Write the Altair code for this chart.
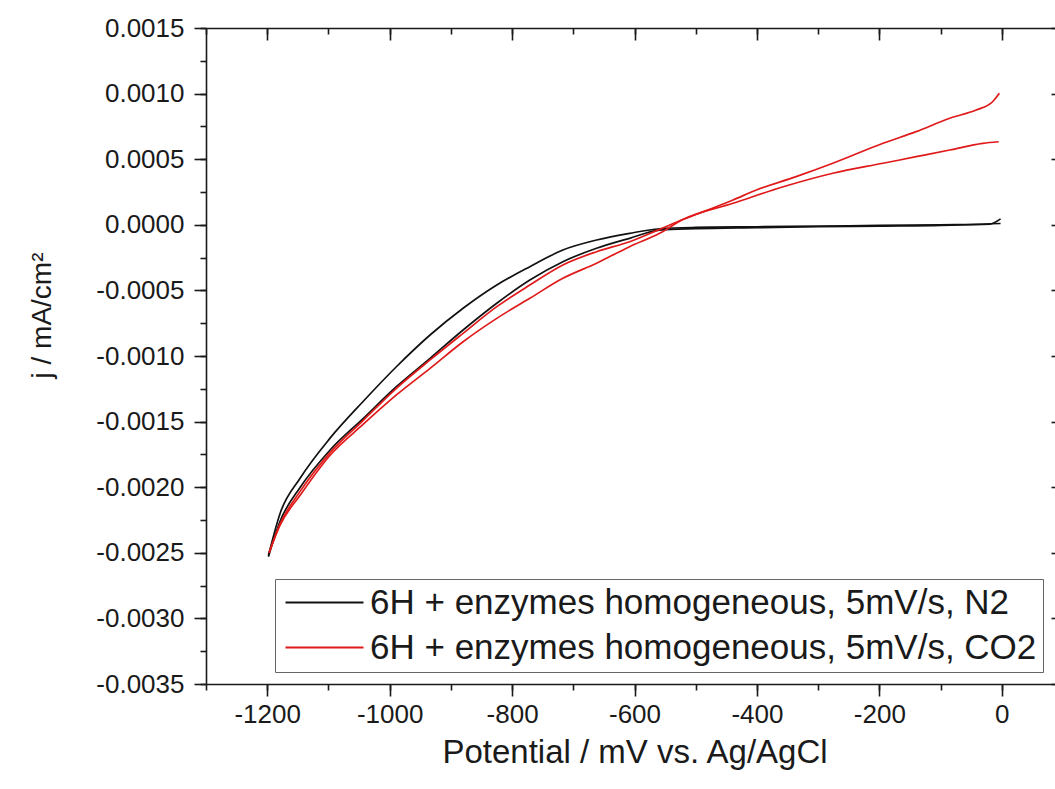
import altair as alt
import pandas as pd

N2_LABEL = "6H + enzymes homogeneous, 5mV/s, N2"
CO2_LABEL = "6H + enzymes homogeneous, 5mV/s, CO2"

# N2 scan, upper branch
n2_a_mv = [-1198, -1179, -1146, -1098, -1043, -989, -934, -880, -825, -771, -717,
           -662, -608, -559, -500, -400, -300, -200, -100, -20, -2]
n2_a_j = [-0.00252, -0.00220, -0.00193, -0.00163, -0.001345, -0.001082, -0.00084,
          -0.000636, -0.000459, -0.000319, -0.000192, -0.000116, -0.000065, -0.00003,
          -0.00002, -0.000015, -0.00001, -0.000005, 0.0, 0.000005, 0.000045]
# N2 scan, lower branch
n2_b_mv = [-1198, -1179, -1146, -1098, -1043, -989, -934, -880, -825, -771, -717,
           -662, -608, -559, -500, -400, -300, -200, -100, -2]
n2_b_j = [-0.00253, -0.00226, -0.00200, -0.00172, -0.001475, -0.001234, -0.001018,
          -0.000802, -0.000598, -0.000421, -0.000281, -0.000179, -0.000103, -0.00004,
          -0.00003, -0.000022, -0.000015, -0.00001, -0.000005, 0.00001]
# CO2 scan, branch ending at 0.0010
co2_a_mv = [-1197, -1179, -1146, -1098, -1043, -989, -934, -880, -825, -771, -717,
            -662, -608, -559, -521, -494, -439, -401, -336, -276, -194, -140, -85,
            -42, -15, -4]
co2_a_j = [-0.00250, -0.00228, -0.00203, -0.00174, -0.00149, -0.001246, -0.00103,
           -0.000827, -0.000624, -0.000459, -0.000306, -0.000205, -0.000129, -0.000035,
           0.00004, 0.000088, 0.000189, 0.000265, 0.000367, 0.000469, 0.000621,
           0.00071, 0.000812, 0.000875, 0.000938, 0.001002]
# CO2 scan, branch ending at 0.00063
co2_b_mv = [-1197, -1179, -1146, -1098, -1043, -989, -934, -880, -825, -771, -717,
            -662, -608, -559, -521, -439, -357, -276, -194, -140, -85, -31, -5]
co2_b_j = [-0.00250, -0.00229, -0.00206, -0.00176, -0.00152, -0.001297, -0.001094,
           -0.000891, -0.000713, -0.00056, -0.000408, -0.000293, -0.000167, -0.000065,
           0.00004, 0.000164, 0.00029, 0.000393, 0.000469, 0.000519, 0.00057,
           0.000621, 0.000633]

x_major = [-1200, -1000, -800, -600, -400, -200, 0]
x_minor = [-1300, -1200, -1100, -1000, -900, -800, -700, -600, -500, -400, -300,
           -200, -100, 0, 100]
y_major = [-0.0035, -0.0030, -0.0025, -0.0020, -0.0015, -0.0010, -0.0005, 0.0,
           0.0005, 0.0010, 0.0015]
y_minor = [-0.0035, -0.00325, -0.0030, -0.00275, -0.0025, -0.00225, -0.0020,
           -0.00175, -0.0015, -0.00125, -0.0010, -0.00075, -0.0005, -0.00025, 0.0,
           0.00025, 0.0005, 0.00075, 0.0010, 0.00125, 0.0015]

rows = []
for series, branch, xs, ys in [
    (N2_LABEL, "n2a", n2_a_mv, n2_a_j),
    (N2_LABEL, "n2b", n2_b_mv, n2_b_j),
    (CO2_LABEL, "co2a", co2_a_mv, co2_a_j),
    (CO2_LABEL, "co2b", co2_b_mv, co2_b_j),
]:
    for xv, yv in zip(xs, ys):
        rows.append({"series": series, "branch": branch, "mv": xv, "j": yv})
df = pd.DataFrame(rows)

FONT = "Liberation Sans"
TXT = "#1a1a1a"
MINUS = "replace(datum.label, '\u2212', '-')"

xscale = alt.Scale(domain=[-1300, 100], range=[0, 857], nice=False, zero=False)
yscale = alt.Scale(domain=[-0.0035, 0.0015], nice=False, zero=False)

common = dict(grid=False, tickColor=TXT, domainColor=TXT, tickWidth=1.6,
              domainWidth=1.6)

bottom_major = alt.Axis(orient="bottom", values=x_major, format="d", labelExpr=MINUS,
                        tickSize=12, labelPadding=5, labelFont=FONT, labelFontSize=26,
                        labelColor=TXT, title="Potential / mV vs. Ag/AgCl",
                        titleFont=FONT, titleFontSize=33, titleFontWeight="normal",
                        titleColor=TXT, titleBaseline="alphabetic", titleY=78, **common)
bottom_minor = alt.Axis(orient="bottom", values=x_minor, tickSize=6, labels=False,
                        domain=False, title=None, **common)
top_major = alt.Axis(orient="top", values=x_major, tickSize=12, offset=-12,
                     labels=False, domain=False, title=None, **common)
top_minor = alt.Axis(orient="top", values=x_minor, tickSize=6, offset=-6,
                     labels=False, domain=False, title=None, **common)
top_line = alt.Axis(orient="top", ticks=False, labels=False, domain=True, title=None,
                    **common)

left_major = alt.Axis(orient="left", values=y_major, format=".4f", labelExpr=MINUS,
                      tickSize=12, labelPadding=10, labelFont=FONT, labelFontSize=26,
                      labelColor=TXT, title="j / mA/cm\u00b2", titleFont=FONT,
                      titleFontSize=28, titleFontWeight="normal", titleColor=TXT,
                      titleAngle=270, titleBaseline="alphabetic", titleAlign="center",
                      titleX=-156, titleY=287, **common)
left_minor = alt.Axis(orient="left", values=y_minor, tickSize=6, labels=False,
                      domain=False, title=None, **common)
right_major = alt.Axis(orient="right", values=y_major, tickSize=12, offset=-4,
                       labels=False, domain=False, title=None, **common)
right_minor = alt.Axis(orient="right", values=y_minor, tickSize=6, offset=2,
                       labels=False, domain=False, title=None, **common)

base = alt.Chart(df)

lines = base.mark_line(strokeWidth=1.7, interpolate="monotone").encode(
    x=alt.X("mv:Q", scale=xscale, axis=bottom_major),
    y=alt.Y("j:Q", scale=yscale, axis=left_major),
    color=alt.Color("series:N",
                    scale=alt.Scale(domain=[N2_LABEL, CO2_LABEL],
                                    range=["#111111", "#e01a1a"]),
                    legend=alt.Legend(orient="none", legendX=69, legendY=551,
                                      title=None)),
    detail="branch:N",
    order="mv:Q",
)


def ghost(xaxis, yaxis):
    return base.mark_point(opacity=0).encode(
        x=alt.X("mv:Q", axis=xaxis),
        y=alt.Y("j:Q", axis=yaxis),
    )


chart = alt.layer(
    lines,
    ghost(bottom_minor, left_minor),
    ghost(top_major, right_major),
    ghost(top_minor, right_minor),
    ghost(top_line, None),
).resolve_axis(x="independent", y="independent").properties(
    width=849, height=656,
    autosize=alt.AutoSizeParams(type="none"),
    padding={"left": 206, "top": 28, "right": 0, "bottom": 105},
).configure_view(strokeWidth=0).configure_legend(
    labelFont=FONT, labelFontSize=35, labelColor=TXT, labelLimit=900,
    symbolType="M-1,0H5", symbolStrokeWidth=2, symbolSize=676, labelOffset=54,
    strokeColor="#666666", fillColor="white", padding=6, rowPadding=9,
)

chart.save("out.html", embed_options={"renderer": "svg", "actions": False})
